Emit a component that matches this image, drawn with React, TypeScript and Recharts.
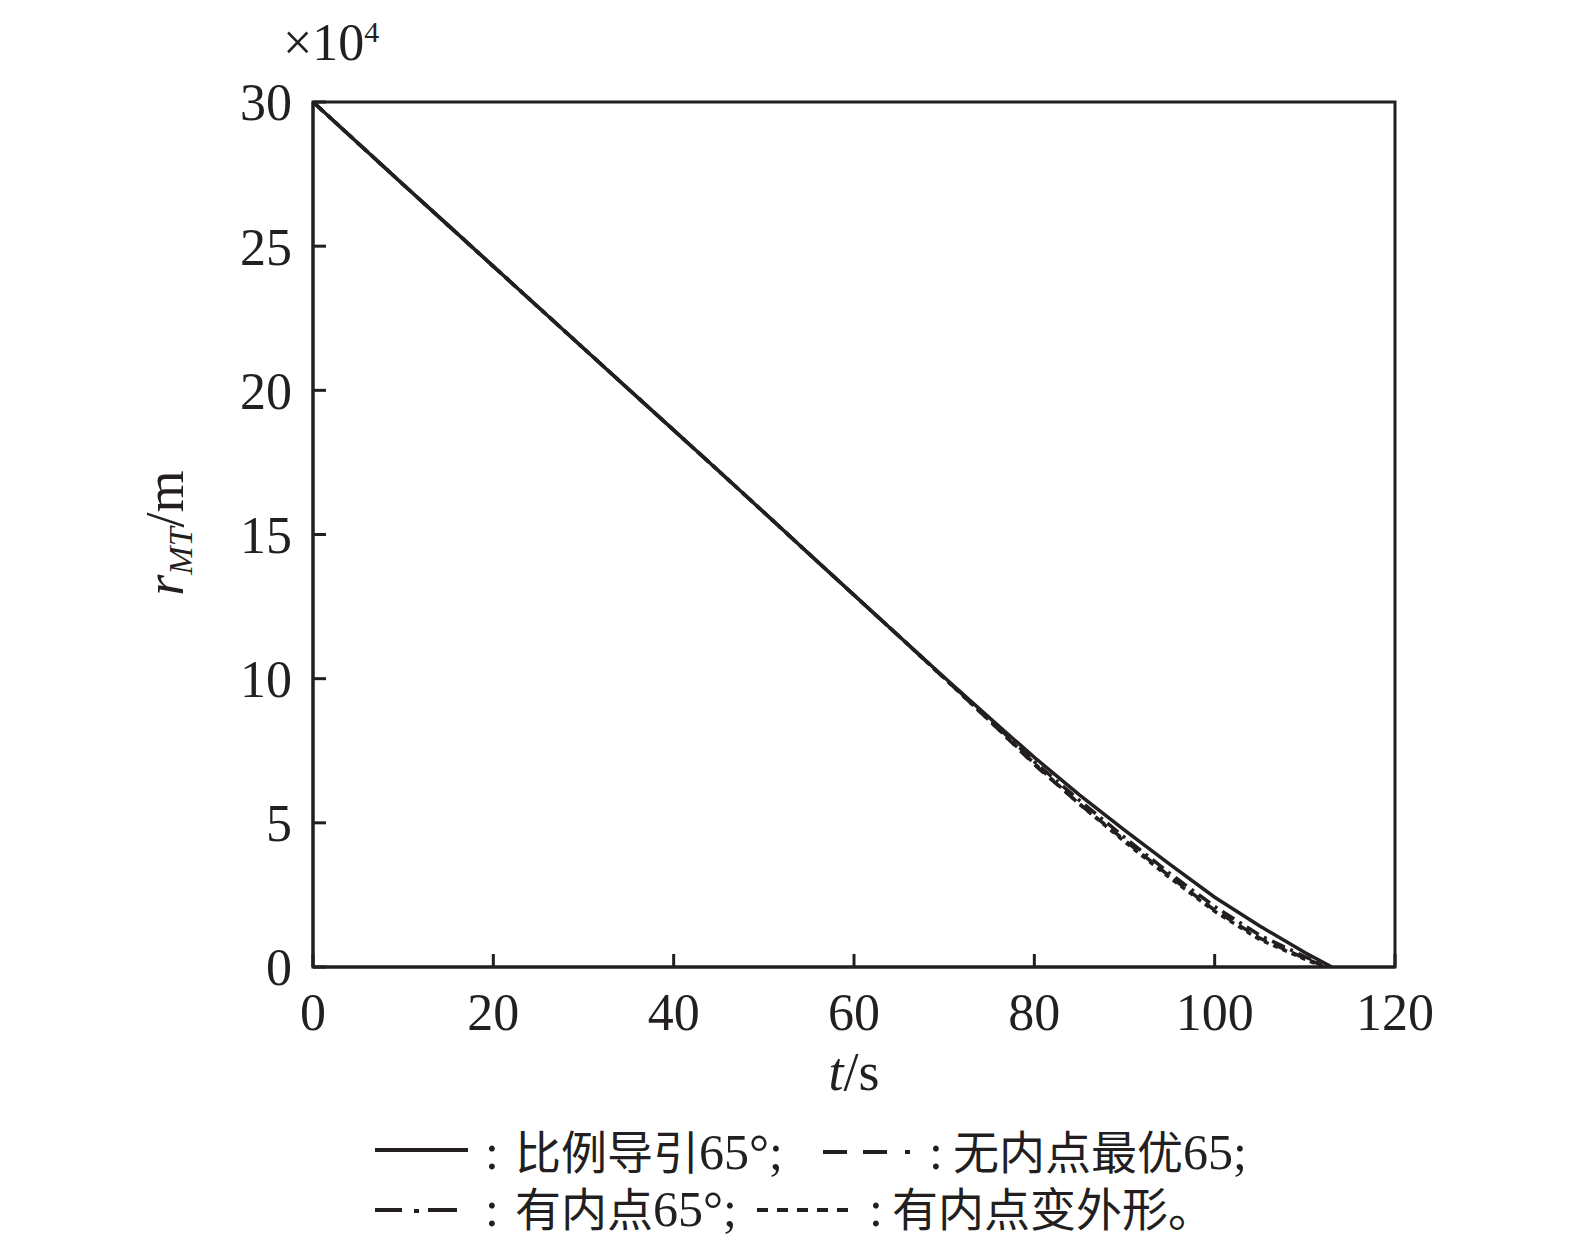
import React from "react";
import { LineChart, Line, XAxis, YAxis, ReferenceArea, Legend } from "recharts";

// time samples (s)
const timeSamples = [0, 5, 10, 15, 20, 25, 30, 35, 40, 45, 50, 55, 60, 65, 70, 75, 80, 85, 90, 95, 100, 105, 110];

// r_MT (x10^4 m) for each series at timeSamples
const proportional65 = [30, 28.57, 27.14, 25.72, 24.3, 22.88, 21.46, 20.04, 18.62, 17.2, 15.77, 14.33, 12.9, 11.47, 10.05, 8.65, 7.27, 5.97, 4.75, 3.57, 2.42, 1.42, 0.5];
const noInnerOptimal65 = [30, 28.57, 27.14, 25.72, 24.3, 22.88, 21.46, 20.04, 18.62, 17.2, 15.77, 14.33, 12.9, 11.47, 10.02, 8.55, 7.02, 5.65, 4.4, 3.15, 1.97, 1.0, 0.3];
const innerPoint65 = [30, 28.57, 27.14, 25.72, 24.3, 22.88, 21.46, 20.04, 18.62, 17.2, 15.77, 14.33, 12.9, 11.47, 10.03, 8.6, 7.12, 5.78, 4.5, 3.25, 2.1, 1.1, 0.36];
const innerPointVarShape = [30, 28.57, 27.14, 25.72, 24.3, 22.88, 21.46, 20.04, 18.62, 17.2, 15.77, 14.33, 12.9, 11.47, 10.02, 8.55, 7.06, 5.65, 4.35, 3.1, 1.93, 0.95, 0.27];

// time at which each series reaches r = 0
const endTimes = [113, 112.4, 112.7, 112.2];

const xTicks = [0, 20, 40, 60, 80, 100, 120];
const yTicks = [0, 5, 10, 15, 20, 25, 30];

const INK = "#231f20";
const SERIF = "'Liberation Serif', 'Times New Roman', serif";
const CJK = "'Noto Sans CJK SC', sans-serif";

const build = (vals: number[], end: number) => [
  ...timeSamples.map((t, i) => ({ t, r: vals[i] })),
  { t: end, r: 0 },
];

const d1 = build(proportional65, endTimes[0]);
const d2 = build(noInnerOptimal65, endTimes[1]);
const d3 = build(innerPoint65, endTimes[2]);
const d4 = build(innerPointVarShape, endTimes[3]);

const LEGEND_TOP = 1092;

const LegendContent = () => {
  const oy = -LEGEND_TOP;
  return (
    <svg width={1575} height={148} style={{ display: "block" }}>
      <g transform={`translate(0, ${oy})`} fill={INK}>
        {/* row 1 */}
        <line x1={375} x2={468} y1={1150} y2={1150} stroke={INK} strokeWidth={4} />
        <text x={485} y={1169} fontFamily={SERIF} fontSize={50}>:</text>
        <text x={515} y={1169}>
          <tspan fontFamily={CJK} fontSize={46}>比例导引</tspan>
          <tspan fontFamily={SERIF} fontSize={50}>65°;</tspan>
        </text>
        <line x1={823} x2={847} y1={1152} y2={1152} stroke={INK} strokeWidth={4} />
        <line x1={863} x2={887} y1={1152} y2={1152} stroke={INK} strokeWidth={4} />
        <line x1={905} x2={910} y1={1152} y2={1152} stroke={INK} strokeWidth={4} />
        <text x={929} y={1169} fontFamily={SERIF} fontSize={50}>:</text>
        <text x={953} y={1169}>
          <tspan fontFamily={CJK} fontSize={46}>无内点最优</tspan>
          <tspan fontFamily={SERIF} fontSize={50}>65;</tspan>
        </text>
        {/* row 2 */}
        <line x1={375} x2={402} y1={1210} y2={1210} stroke={INK} strokeWidth={4} />
        <line x1={414} x2={419} y1={1211} y2={1211} stroke={INK} strokeWidth={4} />
        <line x1={428} x2={457} y1={1210} y2={1210} stroke={INK} strokeWidth={4} />
        <text x={485} y={1226} fontFamily={SERIF} fontSize={50}>:</text>
        <text x={515} y={1226}>
          <tspan fontFamily={CJK} fontSize={46}>有内点</tspan>
          <tspan fontFamily={SERIF} fontSize={50}>65°;</tspan>
        </text>
        <line x1={757} x2={850} y1={1210} y2={1210} stroke={INK} strokeWidth={4} strokeDasharray="11 9" />
        <text x={869} y={1226} fontFamily={SERIF} fontSize={50}>:</text>
        <text x={892} y={1226} fontFamily={CJK} fontSize={46}>有内点变外形。</text>
      </g>
    </svg>
  );
};

const YLabel = () => (
  <g fill={INK}>
    <text
      x={183}
      y={533}
      transform="rotate(-90, 183, 533)"
      textAnchor="middle"
      fontFamily={SERIF}
      fontSize={54}
    >
      <tspan fontStyle="italic">r</tspan>
      <tspan fontStyle="italic" fontSize={34} dy={9}>MT</tspan>
      <tspan dy={-9}>/m</tspan>
    </text>
    <text x={283} y={60} fontFamily={SERIF} fontSize={52}>
      <tspan>×10</tspan>
      <tspan fontSize={30} dy={-18}>4</tspan>
    </text>
  </g>
);

const XLabel = () => (
  <text x={854} y={1090} textAnchor="middle" fontFamily={SERIF} fontSize={54} fill={INK}>
    <tspan fontStyle="italic">t</tspan>
    <tspan>/s</tspan>
  </text>
);

const tickStyle = { fontFamily: SERIF, fontSize: 52, fill: INK };

export default function App() {
  return (
    <div style={{ position: "absolute", left: 0, top: 0, width: 1575, height: 1240, background: "#fff", overflow: "hidden" }}>
      <style>{`html, body { margin: 0; padding: 0; overflow: hidden; }`}</style>
      <LineChart width={1575} height={1240} margin={{ top: 102, right: 180, bottom: 0, left: 0 }}>
        <XAxis
          dataKey="t"
          type="number"
          domain={[0, 120]}
          ticks={xTicks}
          allowDataOverflow
          height={125}
          tickSize={-13}
          tickMargin={39}
          tick={tickStyle}
          tickLine={{ stroke: INK, strokeWidth: 3 }}
          axisLine={{ stroke: INK, strokeWidth: 3 }}
          label={<XLabel />}
        />
        <YAxis
          type="number"
          domain={[0, 30]}
          ticks={yTicks}
          allowDataOverflow
          width={313}
          tickSize={-13}
          tickMargin={34}
          tick={tickStyle}
          tickLine={{ stroke: INK, strokeWidth: 3 }}
          axisLine={{ stroke: INK, strokeWidth: 3 }}
          label={<YLabel />}
        />
        <ReferenceArea x1={0} x2={120} y1={0} y2={30} fill="none" stroke={INK} strokeWidth={3} fillOpacity={0} />
        <Line data={d4} dataKey="r" stroke={INK} strokeWidth={3.5} strokeDasharray="5 5" dot={false} isAnimationActive={false} name="有内点变外形" />
        <Line data={d3} dataKey="r" stroke={INK} strokeWidth={3.5} strokeDasharray="14 6 3 6" dot={false} isAnimationActive={false} name="有内点65°" />
        <Line data={d2} dataKey="r" stroke={INK} strokeWidth={3.5} strokeDasharray="12 8" dot={false} isAnimationActive={false} name="无内点最优65" />
        <Line data={d1} dataKey="r" stroke={INK} strokeWidth={3.5} dot={false} isAnimationActive={false} name="比例导引65°" />
        <Legend
          verticalAlign="bottom"
          height={148}
          content={<LegendContent />}
          wrapperStyle={{ left: 0, width: 1575, height: 148 }}
        />
      </LineChart>
    </div>
  );
}
